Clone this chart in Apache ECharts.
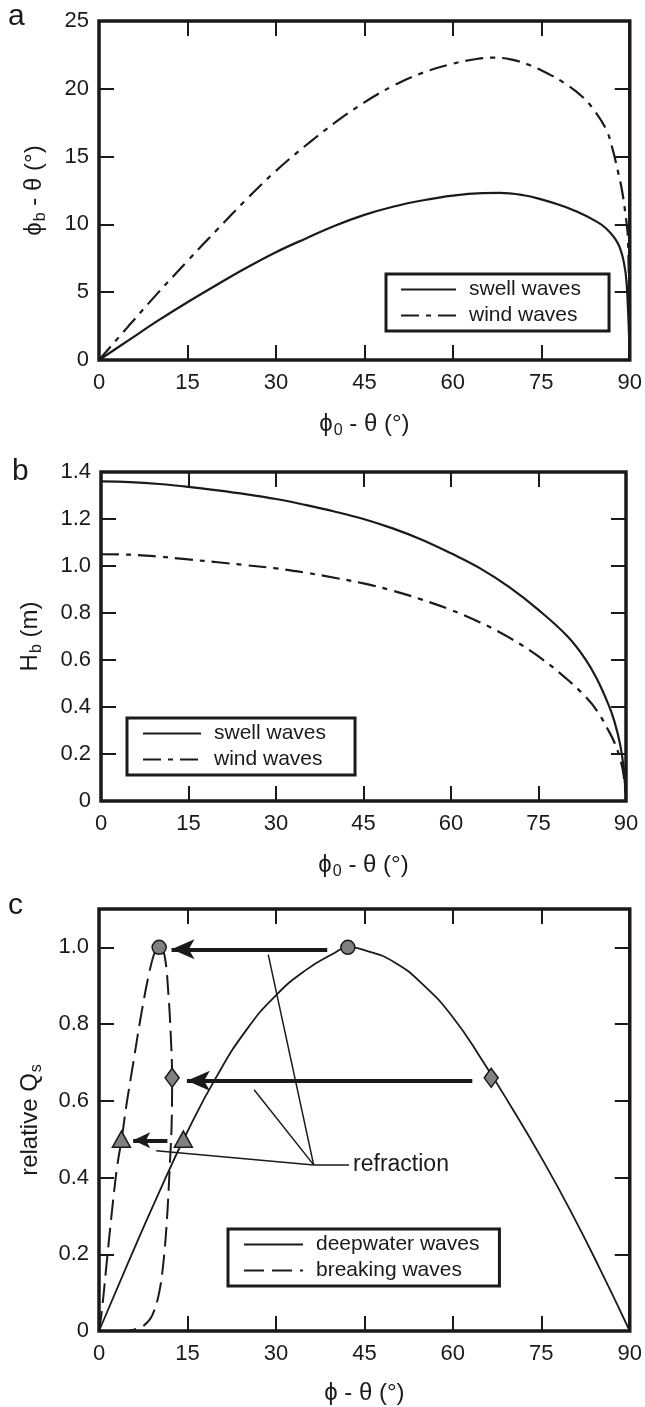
<!DOCTYPE html>
<html>
<head>
<meta charset="utf-8">
<script src="https://cdn.jsdelivr.net/npm/echarts@6/dist/echarts.min.js"></script>
<style>
html,body{margin:0;padding:0;background:#fff;}
#chart{width:645px;height:1407px;}
</style>
</head>
<body>
<div id="chart"></div>
<script>
// ---------- data ----------
const angleTicks = [0, 15, 30, 45, 60, 75, 90];
const aTicks = [0, 5, 10, 15, 20, 25];
const bTicks = [0, 0.2, 0.4, 0.6, 0.8, 1.0, 1.2, 1.4];
const cTicks = [0, 0.2, 0.4, 0.6, 0.8, 1.0];

// panel a: breaking angle vs deepwater angle
const aSwell = [[0,0],[5,1.45],[10,2.9],[15,4.26],[20,5.55],[25,6.8],[30,7.95],[35,8.95],[40,9.9],[45,10.7],[50,11.32],[55,11.78],[60,12.12],[65,12.3],[68,12.32],[72,12.15],[75,11.85],[78,11.45],[81,10.95],[84,10.3],[86,9.7],[88,8.6],[89,7.2],[89.5,5.5],[90,0]];
const aWind = [[0,0],[5,2.5],[10,4.95],[15,7.3],[20,9.6],[25,11.85],[30,13.95],[35,15.8],[40,17.5],[45,19.0],[50,20.25],[55,21.2],[60,21.85],[64,22.2],[67,22.3],[70,22.15],[73,21.75],[76,21.15],[79,20.4],[82,19.4],[84,18.4],[86,17.0],[87,15.7],[88,13.9],[88.6,12.7],[89.2,11.0],[89.7,8.8],[90,0]];

// panel b: breaking height vs deepwater angle
const bSwell = [[0,1.36],[5,1.357],[10,1.349],[15,1.337],[20,1.322],[25,1.305],[30,1.285],[35,1.26],[40,1.232],[45,1.2],[50,1.16],[55,1.112],[60,1.054],[65,0.99],[70,0.91],[75,0.813],[80,0.70],[83,0.605],[85,0.52],[87,0.41],[88,0.34],[89,0.24],[89.6,0.14],[90,0]];
const bWind = [[0,1.05],[5,1.048],[10,1.04],[15,1.028],[20,1.016],[25,1.003],[30,0.99],[35,0.972],[40,0.95],[45,0.926],[50,0.895],[55,0.857],[60,0.813],[65,0.76],[70,0.695],[75,0.615],[80,0.516],[83,0.445],[85,0.385],[87,0.3],[88,0.25],[89,0.18],[89.6,0.11],[90,0]];

// panel c: relative Qs
const cDeep = [[0,0],[5,0.18],[10,0.355],[15,0.52],[20,0.665],[25,0.785],[30,0.875],[35,0.94],[40,0.986],[42.2,1.0],[45,0.993],[50,0.962],[55,0.902],[60,0.818],[65,0.705],[70,0.582],[75,0.452],[80,0.312],[85,0.16],[90,0]];
const cBreak = [[0,0],[0.45,0.047],[1.3,0.177],[2.1,0.298],[3.0,0.42],[3.9,0.507],[4.7,0.594],[5.8,0.698],[7.2,0.829],[8.6,0.94],[9.6,0.993],[10.2,1.0],[11.1,0.98],[11.8,0.871],[12.2,0.76],[12.4,0.66],[12.3,0.53],[12.0,0.43],[11.6,0.31],[11.0,0.19],[10.2,0.10],[9.0,0.04],[7.6,0.014],[6.0,0.004],[4.0,0],[2.5,0]];
const cCircles = [[42.2,1.0],[10.2,1.0]];
const cDiamonds = [[66.5,0.66],[12.4,0.66]];
const cTriangles = [[14.3,0.5],[3.8,0.5]];
// arrows (tail -> tip), data coords
const cArrows = [
  [[38.7,0.995],[12.3,0.995],[15,23]],
  [[63.3,0.652],[14.9,0.652],[15,23]],
  [[11.6,0.497],[5.8,0.497],[12,17]]
];
const refractionHub = [36.4,0.433];
const refractionTargets = [[28.7,0.981],[26.3,0.629],[9.7,0.47]];
const refractionLabelEnd = [42.4,0.433];

// ---------- styling ----------
const FONT = 'Liberation Sans, Arial, Helvetica, sans-serif';
const INK = '#1a1a1a';
const GRAY = '#808080';

const nameRich = {
  a: {fontSize: 24, fontFamily: FONT, color: INK},
  s: {fontSize: 16, fontFamily: FONT, color: INK, padding: [14, 0, 0, 1]}
};

function bottomAxis(gi, name, gap) {
  return {
    type: 'value', gridIndex: gi, min: 0, max: 90, interval: 15, position: 'bottom',
    axisLine: {show: false, onZero: false},
    axisTick: {show: true, inside: true, length: 15, lineStyle: {color: INK, width: 2}},
    axisLabel: {margin: 12, fontSize: 22, color: INK, fontFamily: FONT},
    splitLine: {show: false},
    name: name, nameLocation: 'middle', nameGap: gap,
    nameTextStyle: {fontSize: 24, fontFamily: FONT, color: INK, rich: nameRich}
  };
}
function topAxis(gi) {
  return {
    type: 'value', gridIndex: gi, min: 0, max: 90, interval: 15, position: 'top',
    axisLine: {show: false, onZero: false},
    axisTick: {show: true, inside: true, length: 15, lineStyle: {color: INK, width: 2}},
    axisLabel: {show: false}, splitLine: {show: false}
  };
}
function leftAxis(gi, max, interval, fmt, name, gap) {
  return {
    type: 'value', gridIndex: gi, min: 0, max: max, interval: interval, position: 'left',
    axisLine: {show: false, onZero: false},
    axisTick: {show: true, inside: true, length: 15, lineStyle: {color: INK, width: 2}},
    axisLabel: {margin: 10, fontSize: 22, color: INK, fontFamily: FONT, formatter: fmt},
    splitLine: {show: false},
    name: name, nameLocation: 'middle', nameGap: gap,
    nameTextStyle: {fontSize: 24, fontFamily: FONT, color: INK, rich: nameRich}
  };
}
function rightAxis(gi, max, interval) {
  return {
    type: 'value', gridIndex: gi, min: 0, max: max, interval: interval, position: 'right',
    axisLine: {show: false, onZero: false},
    axisTick: {show: true, inside: true, length: 15, lineStyle: {color: INK, width: 2}},
    axisLabel: {show: false}, splitLine: {show: false}
  };
}
const gridBase = {show: true, borderColor: INK, borderWidth: 3.5, backgroundColor: 'transparent', containLabel: false};

function legendCfg(names, left, top, itemWidth, padding) {
  return {
    data: names, orient: 'vertical', left: left, top: top,
    itemWidth: itemWidth, itemHeight: 14, itemGap: 5, padding: padding,
    borderColor: INK, borderWidth: 3, borderRadius: 0, backgroundColor: '#fff',
    selectedMode: false,
    itemStyle: {opacity: 0},
    textStyle: {fontSize: 21, fontFamily: FONT, color: INK, padding: [0, 0, 0, 8]}
  };
}

function lineSeries(name, xi, yi, data, dash, width, smooth) {
  return {
    type: 'line', name: name, xAxisIndex: xi, yAxisIndex: yi, data: data,
    symbol: 'none', smooth: smooth, clip: true,
    lineStyle: {color: INK, width: width, type: dash},
    itemStyle: {color: INK},
    animation: false, silent: true, z: 3
  };
}

const markLineData = [];
cArrows.forEach(function (a) {
  markLineData.push([
    {coord: a[0], symbol: 'none', lineStyle: {color: INK, width: 4, type: 'solid'}},
    {coord: a[1], symbol: 'arrow', symbolSize: a[2], lineStyle: {color: INK, width: 4, type: 'solid'}}
  ]);
});
refractionTargets.forEach(function (t) {
  markLineData.push([
    {coord: refractionHub, symbol: 'none', lineStyle: {color: INK, width: 1.5, type: 'solid'}},
    {coord: t, symbol: 'none', lineStyle: {color: INK, width: 1.5, type: 'solid'}}
  ]);
});
const refrLabel = {show: true, position: 'end', formatter: 'refraction', fontSize: 23, fontFamily: FONT, color: INK, distance: 4};
markLineData.push([
  {coord: refractionHub, symbol: 'none', lineStyle: {color: INK, width: 1.5, type: 'solid'}, label: refrLabel},
  {coord: refractionLabelEnd, symbol: 'none', lineStyle: {color: INK, width: 1.5, type: 'solid'}, label: refrLabel}
]);

const deepSeries = lineSeries('deepwater waves', 4, 4, cDeep, 'solid', 1.8, 0.5);
deepSeries.markLine = {
  silent: true, animation: false, symbol: ['none', 'none'],
  label: {show: false}, emphasis: {disabled: true},
  data: markLineData
};

function markerSeries(name, data, symbol, size) {
  return {
    type: 'scatter', name: name, xAxisIndex: 4, yAxisIndex: 4, data: data,
    symbol: symbol, symbolSize: size, animation: false, silent: true, z: 10,
    itemStyle: {color: GRAY, borderColor: INK, borderWidth: 1.5, opacity: 1}
  };
}

const option = {
  animation: false,
  backgroundColor: '#fff',
  textStyle: {fontFamily: FONT},
  grid: [
    Object.assign({left: 99, top: 21, width: 535, height: 339}, gridBase),
    Object.assign({left: 101, top: 472, width: 525, height: 329}, gridBase),
    Object.assign({left: 99, top: 909, width: 535, height: 422}, gridBase)
  ],
  xAxis: [
    bottomAxis(0, '{a|\u03D5}{s|0}{a| - \u03B8 (\u00B0)}', 49), topAxis(0),
    bottomAxis(1, '{a|\u03D5}{s|0}{a| - \u03B8 (\u00B0)}', 49), topAxis(1),
    bottomAxis(2, '\u03D5 - \u03B8 (\u00B0)', 50), topAxis(2)
  ],
  yAxis: [
    leftAxis(0, 25, 5, function (v) { return String(v); }, '{a|\u03D5}{s|b}{a| - \u03B8 (\u00B0)}', 50), rightAxis(0, 25, 5),
    leftAxis(1, 1.4, 0.2, function (v) { return v === 0 ? '0' : v.toFixed(1); }, '{a|H}{s|b}{a| (m)}', 56), rightAxis(1, 1.4, 0.2),
    leftAxis(2, 1.1, 0.2, function (v) { return v > 1.05 ? '' : (v === 0 ? '0' : v.toFixed(1)); }, '{a|relative Q}{s|s}', 54), rightAxis(2, 1.1, 0.2)
  ],
  legend: [
    legendCfg(['swell waves', 'wind waves'], 386, 274, 55, [5, 28, 5, 14]),
    legendCfg(['swell waves', 'wind waves'], 127, 718, 58, [5, 29, 5, 15]),
    legendCfg(['deepwater waves', 'breaking waves'], 228, 1229, 59, [5, 20, 5, 15])
  ],
  graphic: [
    {type: 'text', style: {x: 8, y: 17, text: 'a', fontSize: 30, fontFamily: FONT, fill: INK, verticalAlign: 'middle'}},
    {type: 'text', style: {x: 12, y: 472, text: 'b', fontSize: 30, fontFamily: FONT, fill: INK, verticalAlign: 'middle'}},
    {type: 'text', style: {x: 8, y: 906, text: 'c', fontSize: 30, fontFamily: FONT, fill: INK, verticalAlign: 'middle'}}
  ],
  series: [
    lineSeries('swell waves', 0, 0, aSwell, 'solid', 2.2, 0.4),
    lineSeries('wind waves', 0, 0, aWind, [18, 7, 5, 7], 2.2, 0.4),
    lineSeries('swell waves', 2, 2, bSwell, 'solid', 2.2, 0.4),
    lineSeries('wind waves', 2, 2, bWind, [18, 7, 5, 7], 2.2, 0.4),
    deepSeries,
    lineSeries('breaking waves', 4, 4, cBreak, [20, 8], 2, 0.35),
    markerSeries('circles', cCircles, 'circle', 14),
    markerSeries('diamonds', cDiamonds, 'diamond', [14, 19]),
    markerSeries('triangles', cTriangles, 'triangle', [18, 16])
  ]
};

const chart = echarts.init(document.getElementById('chart'), null, {renderer: 'canvas'});
chart.setOption(option);
</script>
</body>
</html>
